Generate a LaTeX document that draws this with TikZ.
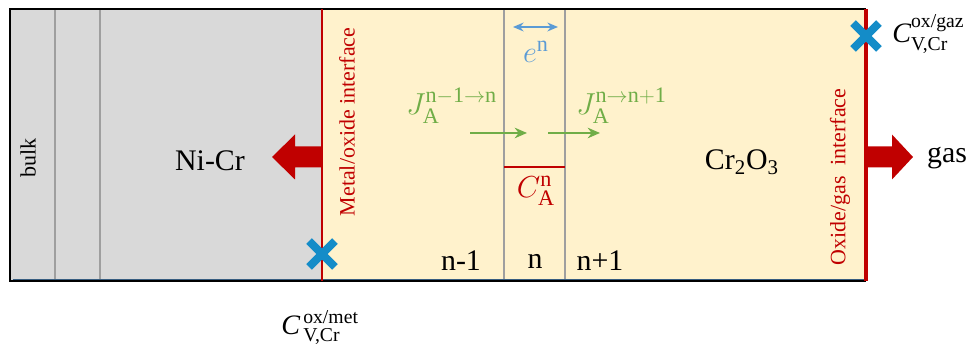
\documentclass[tikz,border=0pt]{standalone}
\usepackage{amsmath}
\usepackage{fontspec}
\setmainfont{Liberation Serif}
\definecolor{noxred}{RGB}{192,0,0}
\definecolor{noxgreen}{RGB}{112,173,71}
\definecolor{noxblue}{RGB}{91,155,213}
\definecolor{noxcross}{RGB}{20,140,200}
\definecolor{noxgrey}{RGB}{217,217,217}
\definecolor{noxcream}{RGB}{255,242,204}
\usetikzlibrary{arrows.meta,positioning,calc,shapes.misc}

\begin{document}
\begin{tikzpicture}[
  bigtxt/.style={font=\fontsize{17}{20}\selectfont},
  facetxt/.style={font=\fontsize{12.5}{15}\selectfont,text=noxred,rotate=90},
  mathtxt/.style={font=\fontsize{16}{19}\selectfont},
  celltxt/.style={font=\fontsize{18}{21}\selectfont},
  vcross/.style={draw=noxcross,cross out,line width=4.5pt,minimum size=0.36cm,inner sep=0pt},
  flux/.style={noxgreen,line width=1.4pt,-{Stealth[length=7pt,width=6pt]}}]
\useasboundingbox (0,0) rectangle (19.36,6.88);
% metal and oxide layers
\fill[noxgrey] (0.2,1.26) rectangle (6.44,6.7);
\fill[noxcream] (6.44,1.26) rectangle (17.32,6.7);
\foreach \x in {1.1,2.0,10.08,11.3}
  \draw[gray!75,line width=0.6pt] (\x,1.26) -- (\x,6.7);
\draw[line width=1.3pt] (17.32,6.7) -- (0.2,6.7) -- (0.2,1.26) -- (17.32,1.26);
\draw[noxblue!60!black,line width=0.5pt] (0.25,1.3) -- (17.3,1.3);
\draw[noxred,line width=1.2pt] (6.44,1.26) -- (6.44,6.7);
\draw[noxred,line width=1.8pt] (17.32,1.26) -- (17.32,6.7);
% big arrows
\fill[noxred] (6.44,3.53) -- (5.9,3.53) -- (5.9,3.29) -- (5.44,3.74) -- (5.9,4.19) -- (5.9,3.95) -- (6.44,3.95) -- cycle;
\fill[noxred] (17.32,3.53) -- (17.84,3.53) -- (17.84,3.29) -- (18.26,3.74) -- (17.84,4.19) -- (17.84,3.95) -- (17.32,3.95) -- cycle;
% labels
\node[bigtxt,rotate=90,font=\fontsize{12.5}{15}\selectfont] (bulk) at (0.56,3.72) {bulk};
\node[bigtxt] (nicr) at (4.2,3.66) {Ni-Cr};
\node[bigtxt] (oxide) at (14.84,3.64) {Cr\textsubscript{2}O\textsubscript{3}};
\node[bigtxt,anchor=west] (gas) at (18.42,3.72) {gas};
\node[facetxt] (metface) at (6.94,4.44) {Metal/oxide interface};
\node[facetxt] (gasface) at (16.8,3.34) {Oxide/gas\ \ interface};
\node[bigtxt] (lay1) at (9.22,1.66) {n-1};
\node[bigtxt] (lay2) at (10.7,1.66) {n};
\node[bigtxt] (lay3) at (12.0,1.66) {n+1};
% vacancy sites
\node[vcross] (xmet) at (6.44,1.8) {};
\node[vcross] (xgas) at (17.32,6.16) {};
\node[mathtxt,anchor=west,inner sep=0pt] (cmet) at (5.62,0.33) {$\textit{C}^{\,\text{ox/met}}_{\,\text{V,Cr}}$};
\node[mathtxt,anchor=west,inner sep=0pt] (cgas) at (17.84,6.2) {$\textit{C}^{\text{ox/gaz}}_{\text{V,Cr}}$};
% cell n
\coordinate (ea) at (10.26,6.34);
\coordinate (eb) at (11.16,6.34);
\draw[noxblue,line width=1.2pt,{Stealth[length=6pt,width=5pt]}-{Stealth[length=6pt,width=5pt]}] (ea) -- (eb);
\node[celltxt,text=noxblue] (en) at (10.72,5.84) {$e^{\mathrm{n}}$};
\node[celltxt,text=noxgreen,anchor=west,inner sep=0pt] (jin) at (8.12,4.76) {$J^{\mathrm{n-1\to n}}_{\mathrm{A}}$};
\node[celltxt,text=noxgreen,anchor=west,inner sep=0pt] (jout) at (11.52,4.76) {$J^{\mathrm{n\to n+1}}_{\mathrm{A}}$};
\coordinate (f1a) at (9.4,4.22);
\coordinate (f1b) at (10.54,4.22);
\coordinate (f2a) at (10.96,4.22);
\coordinate (f2b) at (12.0,4.22);
\draw[flux] (f1a) -- (f1b);
\draw[flux] (f2a) -- (f2b);
\draw[noxred,line width=1.3pt] (10.08,3.54) -- (11.3,3.54);
\node[celltxt,text=noxred] (can) at (10.72,3.06) {$C^{\mathrm{n}}_{\mathrm{A}}$};
\end{tikzpicture}
\end{document}
